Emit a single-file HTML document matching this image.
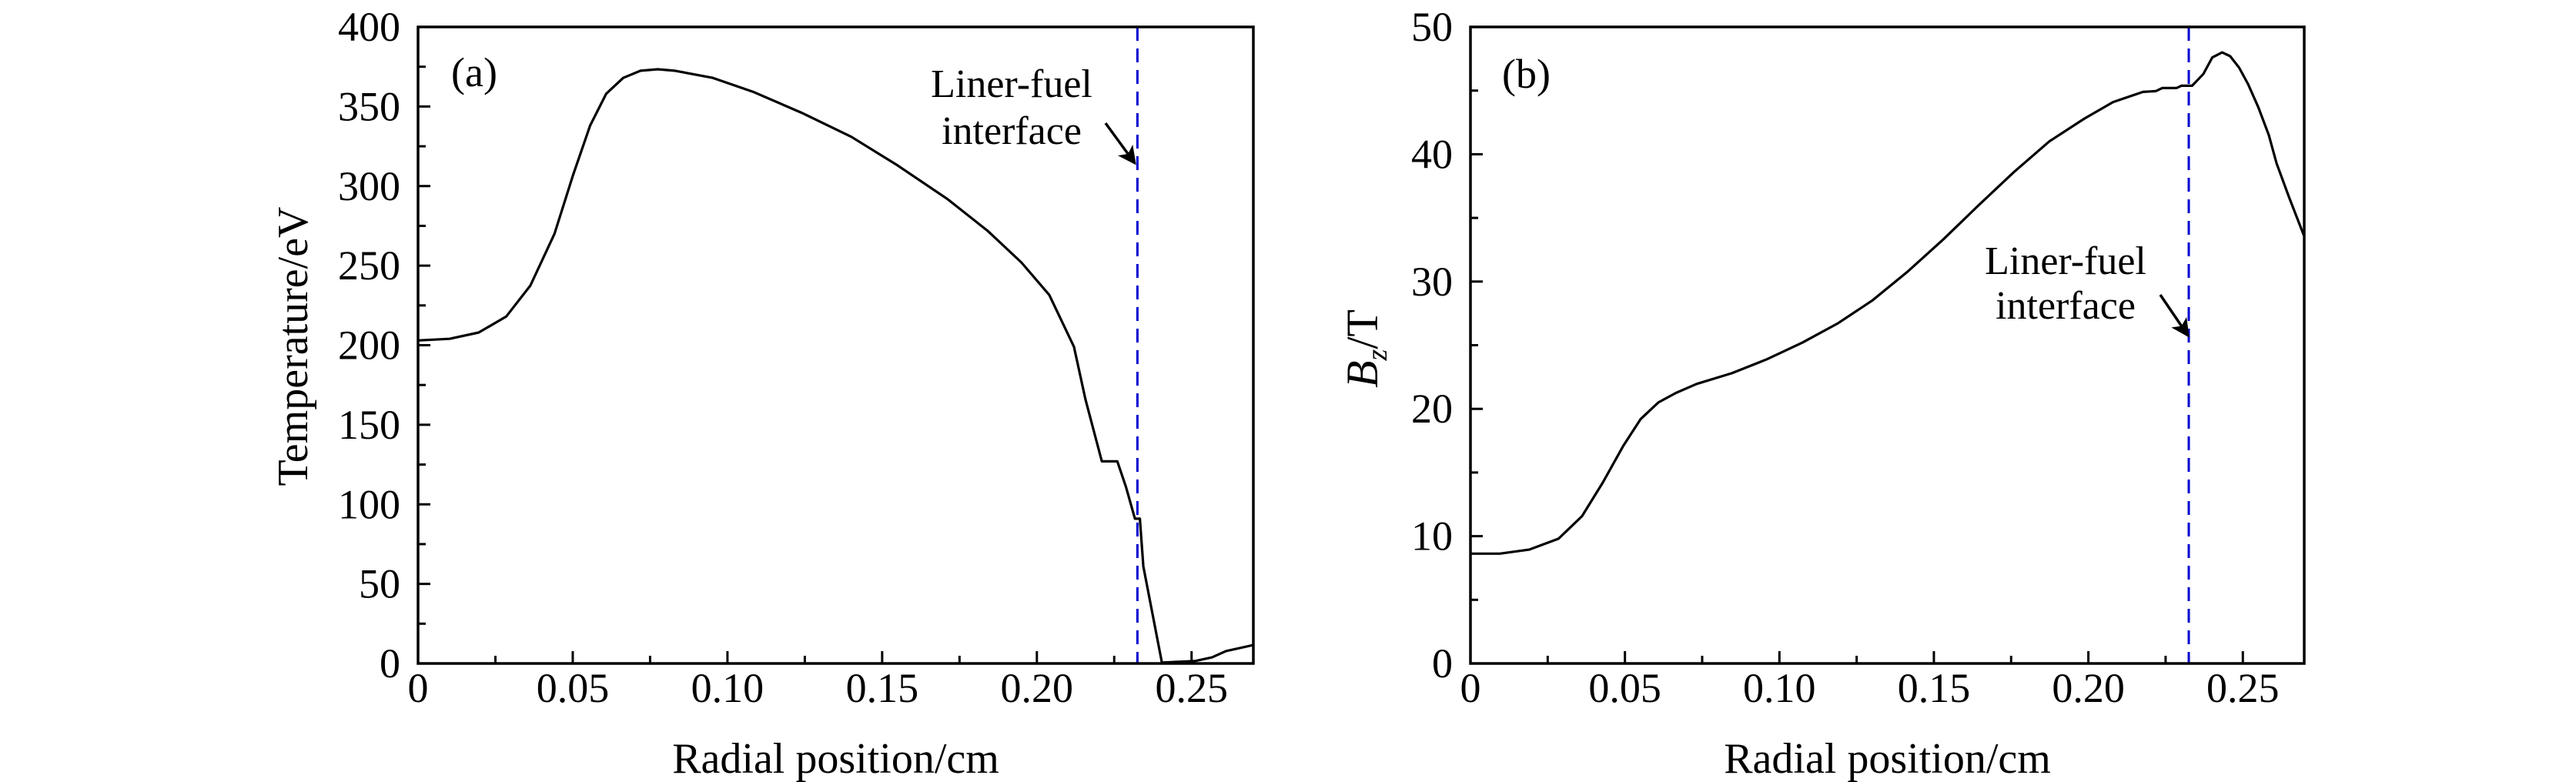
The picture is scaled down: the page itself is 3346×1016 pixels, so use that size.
<!DOCTYPE html>
<html><head><meta charset="utf-8"><style>
html,body{margin:0;padding:0;background:#fff;}
svg{display:block;}
text{font-family:"Liberation Serif",serif;fill:#000;}
</style></head>
<body>
<svg id="fig" width="3346" height="1016" viewBox="0 0 3346 1016" xmlns="http://www.w3.org/2000/svg"></svg>
<script>
// Panel (a) data: temperature vs radial position
const tempX = [0,0.0102,0.0196,0.0285,0.0363,0.0441,0.0501,0.0556,0.0608,0.0663,0.0719,0.0775,0.083,0.0953,0.1086,0.124,0.140,0.155,0.171,0.184,0.195,0.204,0.212,0.2157,0.221,0.226,0.2288,0.2317,0.2333,0.2344,0.2404,0.251,0.2566,0.2611,0.27];
const tempY = [203,204,208,218,237.5,270,307,338,358,368,372.5,373.4,372.5,368,359,346,331,313,292,272,252,231.6,199,166,127,127,111,91,91,61,0.6,1.5,3.8,7.8,11.6];
const tempYTicks = [0,50,100,150,200,250,300,350,400];
const xTicks = [0,0.05,0.10,0.15,0.20,0.25];
const xTickLabels = ["0","0.05","0.10","0.15","0.20","0.25"];
// Panel (b) data: Bz vs radial position
const bzX = [0,0.0095,0.019,0.0285,0.0361,0.0428,0.0494,0.0551,0.0608,0.0665,0.0732,0.0846,0.096,0.1074,0.1188,0.130,0.1416,0.153,0.1645,0.1759,0.1873,0.1987,0.208,0.2177,0.2218,0.2239,0.2285,0.2301,0.2336,0.2372,0.2401,0.2433,0.2459,0.2488,0.2517,0.255,0.2584,0.2609,0.265,0.2698];
const bzY = [8.63,8.63,8.94,9.8,11.57,14.2,17.06,19.2,20.5,21.25,21.96,22.8,23.9,25.2,26.7,28.5,30.8,33.3,36.0,38.6,41.0,42.8,44.1,44.9,44.96,45.2,45.2,45.38,45.38,46.3,47.6,48.0,47.7,46.8,45.5,43.7,41.5,39.3,36.6,33.6];
const bzYTicks = [0,10,20,30,40,50];
const interfaceX = 0.2325;

const NS = "http://www.w3.org/2000/svg";
const svg = document.getElementById('fig');
function mk(tag, attrs, parent){
  const e = document.createElementNS(NS, tag);
  for (const k in attrs) e.setAttribute(k, attrs[k]);
  (parent||svg).appendChild(e);
  return e;
}

const defs = mk('defs', {});
const marker = mk('marker', {id:'arrowhead', markerWidth:'8', markerHeight:'8', refX:'7', refY:'4', orient:'auto', markerUnits:'userSpaceOnUse'}, defs);
marker.setAttribute('viewBox','0 0 8 8');
marker.setAttribute('markerWidth','24');
marker.setAttribute('markerHeight','24');
mk('path', {d:'M0,0 L8,4 L0,8 L2,4 Z', fill:'#000'}, marker);

function panel(cfg){
  const g = mk('g', {});
  
  
  const L=cfg.left, R=cfg.right, T=35, B=862;
  const sx = v => L + v*cfg.pxPerCm;
  const sy = v => B - (v - 0)/(cfg.ymax)*(B-T);
  // curve
  let d = '';
  for (let i=0;i<cfg.xs.length;i++){ d += (i?'L':'M') + sx(cfg.xs[i]).toFixed(1) + ',' + sy(cfg.ys[i]).toFixed(1); }
  const line = mk('path', {d:d, fill:'none', stroke:'#000', 'stroke-width':'3.2', 'stroke-linejoin':'round'}, g);
  
  
  // interface dashed line
  const dl = mk('line', {x1:sx(interfaceX), x2:sx(interfaceX), y1:T, y2:B, stroke:'#0000d0', 'stroke-width':'3', 'stroke-dasharray':'18 10'}, g);
  
  
  // frame
  const fr = mk('rect', {x:L, y:T, width:R-L, height:B-T, fill:'none', stroke:'#000', 'stroke-width':'3.5'}, g);
  
  
  // x ticks
  for (let i=0;i<xTicks.length;i++){
    const x = sx(xTicks[i]);
    if (i>0) mk('line', {x1:x, x2:x, y1:B, y2:B-16, stroke:'#000', 'stroke-width':'3'}, g);
    const t = mk('text', {x:x, y:912, 'font-size':'54', 'text-anchor':'middle'}, g);
    t.textContent = xTickLabels[i];
    
    
    const xm = sx(xTicks[i]+0.025);
    if (xm < R-2) mk('line', {x1:xm, x2:xm, y1:B, y2:B-10, stroke:'#000', 'stroke-width':'3'}, g);
  }
  // y ticks
  const step = cfg.yTicks[1]-cfg.yTicks[0];
  for (let i=0;i<cfg.yTicks.length;i++){
    const y = sy(cfg.yTicks[i]);
    if (i>0 && i<cfg.yTicks.length-1) mk('line', {x1:L, x2:L+16, y1:y, y2:y, stroke:'#000', 'stroke-width':'3'}, g);
    const t = mk('text', {x:cfg.left-23, y:y+18, 'font-size':'54', 'text-anchor':'end'}, g);
    t.textContent = String(cfg.yTicks[i]);
    
    
    if (i<cfg.yTicks.length-1){ const ym = sy(cfg.yTicks[i]+step/2); mk('line', {x1:L, x2:L+10, y1:ym, y2:ym, stroke:'#000', 'stroke-width':'3'}, g); }
  }
  // x title
  const xt = mk('text', {x:(L+R)/2, y:1004, 'font-size':'56', 'text-anchor':'middle'}, g);
  xt.textContent = 'Radial position/cm';
  
  
  return {g, sx, sy};
}

const pa = panel({name:'panel-a', left:543, right:1628, pxPerCm:4019, ymax:400, xs:tempX, ys:tempY, yTicks:tempYTicks});
const pb = panel({name:'panel-b', left:1910, right:2993, pxPerCm:4013, ymax:50, xs:bzX, ys:bzY, yTicks:bzYTicks});

// y titles
let t = mk('text', {x:0, y:0, 'font-size':'56', 'text-anchor':'middle', transform:'translate(399,450) rotate(-90)'});
t.textContent = 'Temperature/eV';


t = mk('text', {x:0, y:0, 'font-size':'58', 'text-anchor':'middle', transform:'translate(1789,453) rotate(-90)'});
t.innerHTML = '<tspan font-style="italic">B</tspan><tspan font-style="italic" font-size="38" dy="12">z</tspan><tspan dy="-12">/T</tspan>';



// panel labels
t = mk('text', {x:586, y:112, 'font-size':'54'}); t.textContent='(a)';


t = mk('text', {x:1951, y:114, 'font-size':'54'}); t.textContent='(b)';



// annotations
function annot(cx, y1, y2, ax1, ay1, ax2, ay2, nm){
  let a = mk('text', {x:cx, y:y1, 'font-size':'52', 'text-anchor':'middle'}); a.textContent='Liner-fuel';
  
  
  a = mk('text', {x:cx, y:y2, 'font-size':'52', 'text-anchor':'middle'}); a.textContent='interface';
  
  
  a = mk('line', {x1:ax1, y1:ay1, x2:ax2, y2:ay2, stroke:'#000', 'stroke-width':'3.5', 'marker-end':'url(#arrowhead)'});
  
  
}
annot(1314, 126, 187, 1436, 160, 1474, 212, 'annotation-a');
annot(2683, 356, 414, 2806, 383, 2842, 436, 'annotation-b');
</script>
</body></html>
